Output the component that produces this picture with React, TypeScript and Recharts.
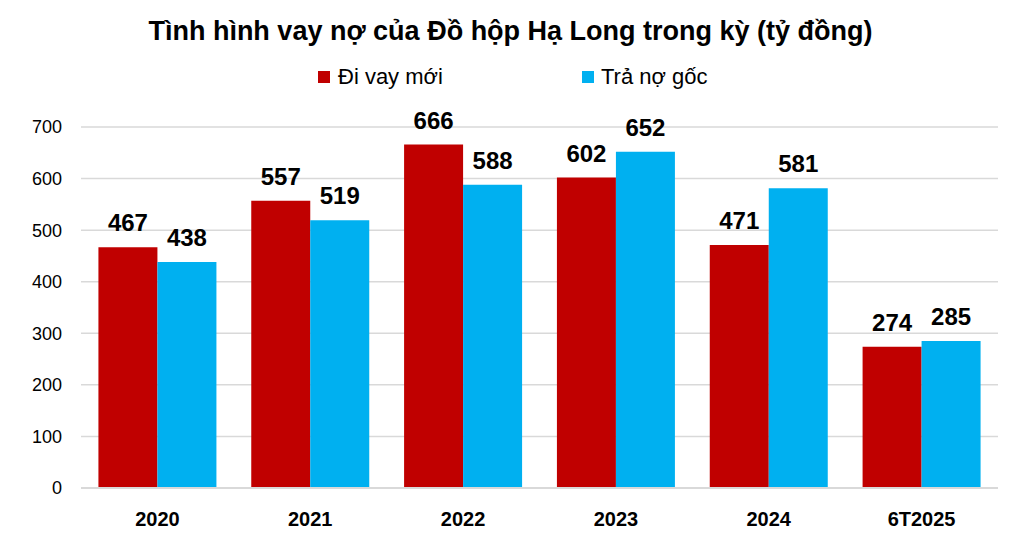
import React from "react";
import { Bar, BarChart, CartesianGrid, LabelList, Legend, XAxis, YAxis } from "recharts";

// categories and values
const years = ["2020", "2021", "2022", "2023", "2024", "6T2025"];
const newBorrowing = [467, 557, 666, 602, 471, 274];
const principalRepaid = [438, 519, 588, 652, 581, 285];
const yTicks = [0, 100, 200, 300, 400, 500, 600, 700];

const seriesNames = { diVay: "Đi vay mới", traNo: "Trả nợ gốc" };

const data = years.map((year, i) => ({
    year,
    diVay: newBorrowing[i],
    traNo: principalRepaid[i],
}));

const FONT = "'Liberation Sans', Arial, sans-serif";
const RED = "#C00000";
const BLUE = "#00B0F0";

const LegendBox = () => (
    <div style={{ position: "relative", height: 30, fontFamily: FONT, fontSize: 22, color: "#000" }}>
        <div style={{ position: "absolute", left: 318, top: 0, display: "flex", alignItems: "center" }}>
            <span style={{ width: 12, height: 12, background: RED, display: "inline-block", marginRight: 8 }} />
            <span>{seriesNames.diVay}</span>
        </div>
        <div style={{ position: "absolute", left: 582, top: 0, display: "flex", alignItems: "center" }}>
            <span style={{ width: 12, height: 12, background: BLUE, display: "inline-block", marginRight: 7 }} />
            <span>{seriesNames.traNo}</span>
        </div>
    </div>
);

export default function App() {
    return (
        <div style={{ position: "absolute", left: 0, top: 0, width: 1021, height: 541, background: "#fff" }}>
            <style>{"body{margin:0}"}</style>
            <div
                style={{
                    position: "absolute",
                    top: 16,
                    left: 0,
                    width: 1021,
                    textAlign: "center",
                    fontFamily: FONT,
                    fontWeight: "bold",
                    fontSize: 27,
                    color: "#000",
                }}
            >
                Tình hình vay nợ của Đồ hộp Hạ Long trong kỳ (tỷ đồng)
            </div>
            <BarChart
                width={1021}
                height={541}
                data={data}
                margin={{ top: 97, right: 23, bottom: 23, left: 0 }}
                barCategoryGap="11.4%"
                barGap={0}
            >
                <CartesianGrid vertical={false} stroke="#D9D9D9" strokeWidth={1.5} />
                <XAxis
                    dataKey="year"
                    height={30}
                    tickLine={false}
                    axisLine={{ stroke: "#D9D9D9", strokeWidth: 2 }}
                    tickMargin={18}
                    tick={{ fontFamily: FONT, fontSize: 20, fontWeight: "bold", fill: "#000" }}
                />
                <YAxis
                    width={81}
                    domain={[0, 700]}
                    ticks={yTicks}
                    tickLine={false}
                    axisLine={false}
                    tickMargin={13}
                    tick={{ fontFamily: FONT, fontSize: 18, fill: "#000" }}
                />
                <Legend
                    verticalAlign="top"
                    content={() => <LegendBox />}
                    wrapperStyle={{ top: 64, left: 0, width: 1021, height: 30 }}
                />
                <Bar dataKey="diVay" name={seriesNames.diVay} fill={RED} isAnimationActive={false}>
                    <LabelList
                        dataKey="diVay"
                        position="top"
                        offset={16}
                        style={{ fontFamily: FONT, fontSize: 24, fontWeight: "bold", fill: "#000" }}
                    />
                </Bar>
                <Bar dataKey="traNo" name={seriesNames.traNo} fill={BLUE} isAnimationActive={false}>
                    <LabelList
                        dataKey="traNo"
                        position="top"
                        offset={16}
                        style={{ fontFamily: FONT, fontSize: 24, fontWeight: "bold", fill: "#000" }}
                    />
                </Bar>
            </BarChart>
        </div>
    );
}
